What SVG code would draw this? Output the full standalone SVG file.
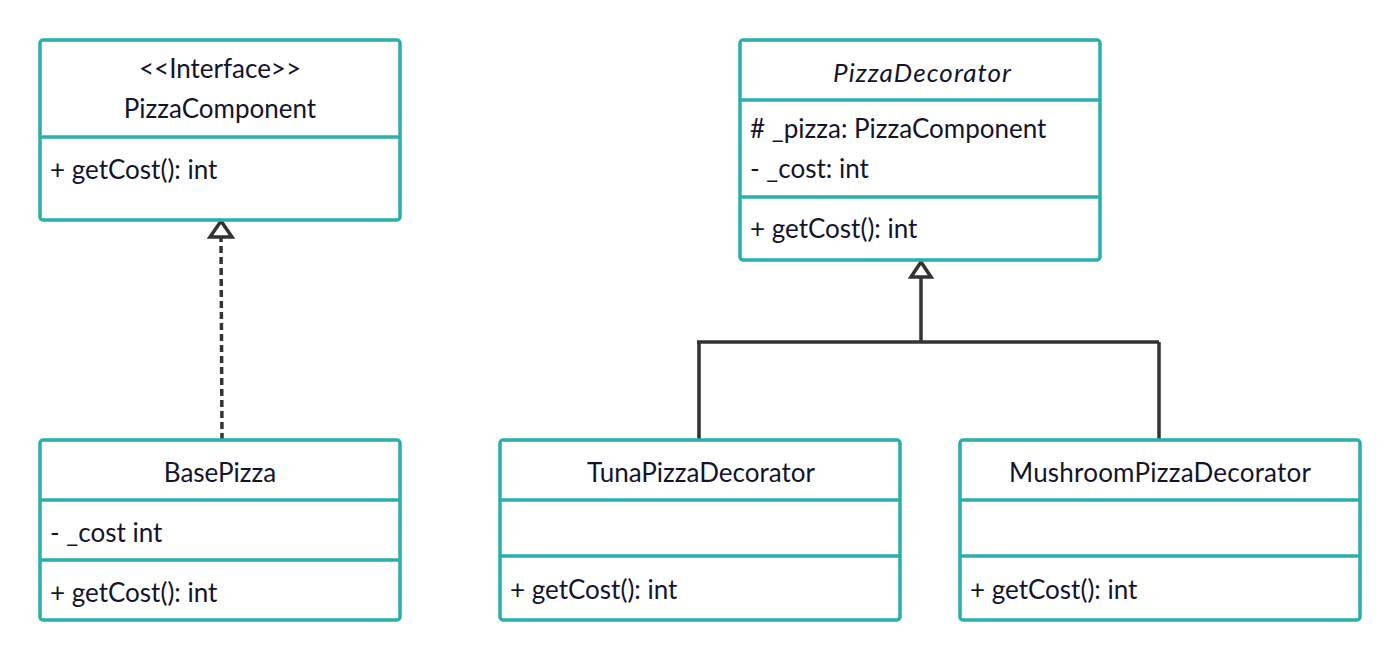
<svg xmlns="http://www.w3.org/2000/svg" width="1400" height="660" viewBox="0 0 1400 660">
<style>
.box{fill:#fff;stroke:#2ab0ab;stroke-width:3.5}
.div{stroke:#2ab0ab;stroke-width:3.5}
.t{font-family:Lato,"Open Sans","Liberation Sans",sans-serif;font-size:26px;fill:#14142b}
.c{text-anchor:middle}
.i{font-style:italic}
.conn{fill:none;stroke:#333;stroke-width:3.5}
.dash{stroke-dasharray:7 4}
.head{fill:#fff;stroke:#333;stroke-width:3.5;stroke-linejoin:miter}
</style>
<rect width="1400" height="660" fill="#fff"/>
<g id="connectors">
  <path class="conn dash" d="M222,440 L221,237"/>
  <polygon class="head" points="221,221 232,237 210,237"/>
  <path class="conn" d="M921,278 L921,342 M697,342 L1159,342 M699,342 L699,440 M1159,342 L1159,440"/>
  <polygon class="head" points="921,262 931,277 911,277"/>
</g>
<g id="PizzaComponent">
  <rect class="box" x="40" y="40" width="360" height="180" rx="3"/>
  <line class="div" x1="40" y1="137" x2="400" y2="137"/>
  <text class="t c" x="220" y="78">&lt;&lt;Interface&gt;&gt;</text>
  <text class="t c" x="220" y="118">PizzaComponent</text>
  <text class="t" x="50" y="179">+ getCost(): int</text>
</g>
<g id="PizzaDecorator">
  <rect class="box" x="740" y="40" width="360" height="220" rx="3"/>
  <line class="div" x1="740" y1="100" x2="1100" y2="100"/>
  <line class="div" x1="740" y1="197" x2="1100" y2="197"/>
  <text class="t c i" x="922" y="82" textLength="178" lengthAdjust="spacing">PizzaDecorator</text>
  <text class="t" x="750" y="138"># _pizza: PizzaComponent</text>
  <text class="t" x="750" y="178">- _cost: int</text>
  <text class="t" x="750" y="238">+ getCost(): int</text>
</g>
<g id="BasePizza">
  <rect class="box" x="40" y="440" width="360" height="180" rx="3"/>
  <line class="div" x1="40" y1="500" x2="400" y2="500"/>
  <line class="div" x1="40" y1="560" x2="400" y2="560"/>
  <text class="t c" x="220" y="482">BasePizza</text>
  <text class="t" x="50" y="542">- _cost int</text>
  <text class="t" x="50" y="602">+ getCost(): int</text>
</g>
<g id="TunaPizzaDecorator">
  <rect class="box" x="500" y="440" width="400" height="180" rx="3"/>
  <line class="div" x1="500" y1="500" x2="900" y2="500"/>
  <line class="div" x1="500" y1="556" x2="900" y2="556"/>
  <text class="t c" x="701" y="482">TunaPizzaDecorator</text>
  <text class="t" x="510" y="599">+ getCost(): int</text>
</g>
<g id="MushroomPizzaDecorator">
  <rect class="box" x="960" y="440" width="400" height="180" rx="3"/>
  <line class="div" x1="960" y1="500" x2="1360" y2="500"/>
  <line class="div" x1="960" y1="556" x2="1360" y2="556"/>
  <text class="t c" x="1160" y="482" textLength="302" lengthAdjust="spacing">MushroomPizzaDecorator</text>
  <text class="t" x="970" y="599">+ getCost(): int</text>
</g>
</svg>
